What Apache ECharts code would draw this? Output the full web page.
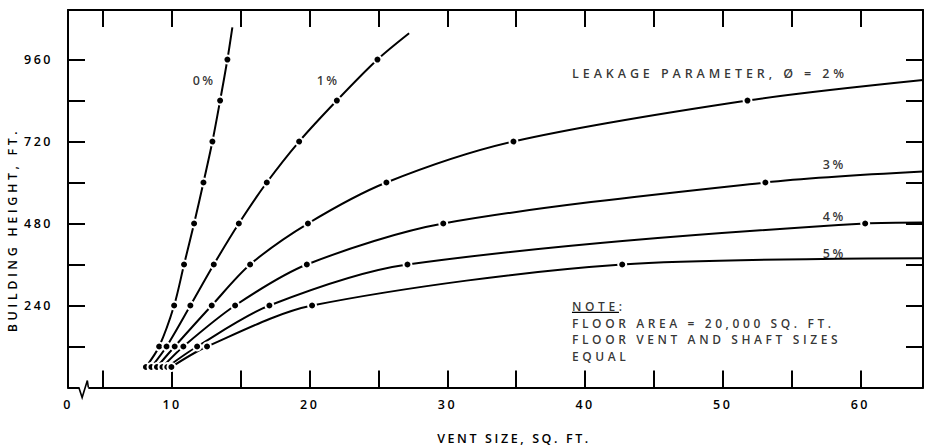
<!DOCTYPE html>
<html><head><meta charset="utf-8">
<script src="https://cdn.jsdelivr.net/npm/echarts@6/dist/echarts.min.js"></script>
<style>
html,body{margin:0;padding:0;background:#fff}
#chart{width:928px;height:448px;letter-spacing:3.6px}
</style>
</head><body><div id="chart"></div>
<script>
// ---------- data ----------
const curveNames = ['0%', '1%', '2%', '3%', '4%', '5%'];
// measured points (dots) per leakage parameter: [vent size sq.ft, building height ft]
const leak0 = [[8.1, 60], [9.06, 120], [10.15, 240], [10.87, 360], [11.6, 480], [12.28, 600], [12.93, 720], [13.49, 840], [14.02, 960]];
const leak1 = [[8.5, 60], [9.6, 120], [11.33, 240], [13.03, 360], [14.85, 480], [16.88, 600], [19.23, 720], [21.97, 840], [24.92, 960]];
const leak2 = [[8.9, 60], [10.19, 120], [12.88, 240], [15.67, 360], [19.87, 480], [25.57, 600], [34.8, 720], [51.8, 840]];
const leak3 = [[9.3, 60], [10.82, 120], [14.58, 240], [19.79, 360], [29.7, 480], [53.1, 600]];
const leak4 = [[9.65, 60], [11.82, 120], [17.07, 240], [27.1, 360], [60.35, 480]];
const leak5 = [[9.95, 60], [12.54, 120], [20.17, 240], [42.7, 360]];
// where each drawn curve ends (no dot)
const curveEnds = [[14.38, 1054], [27.22, 1037], [64.55, 900], [64.55, 632], [64.55, 483], [64.55, 378]];

const X_MIN = 2.44, X_MAX = 64.55, Y_MIN = 0, Y_MAX = 1105;
const xTickValues = [5, 10, 15, 20, 25, 30, 35, 40, 45, 50, 55, 60];
const xLabelValues = [X_MIN, 10, 20, 30, 40, 50, 60];
const yTickValues = [120, 240, 360, 480, 600, 720, 840, 960];
const yLabelValues = [240, 480, 720, 960];

const curveLabels = ['0%', '1%', 'LEAKAGE PARAMETER, Ø = 2%', '3%', '4%', '5%'];
const curveLabelAt = [[12.33, 900], [21.34, 900], [59.1, 920], [58.1, 654], [58.1, 500], [58.1, 392]];
const noteText = ['NOTE:', 'FLOOR AREA = 20,000 SQ. FT.', 'FLOOR VENT AND SHAFT SIZES', 'EQUAL'];
const noteAt = [39.05, 261];
const breakAtX = 3.3;

const xTitle = 'VENT SIZE, SQ. FT.';
const yTitle = 'BUILDING HEIGHT, FT.';

// ---------- chart ----------
const FONT = '"Open Sans", "Noto Sans", sans-serif';
const WEIGHT = 600;
const INK = '#000';
const chart = echarts.init(document.getElementById('chart'), null, { renderer: 'svg' });

const curves = [leak0, leak1, leak2, leak3, leak4, leak5];
const axisLine = { show: true, onZero: false, lineStyle: { color: INK, width: 2 } };
function tick(values) {
  return { show: true, inside: true, length: 17, customValues: values, lineStyle: { color: INK, width: 2 } };
}

const lineSeries = curves.map((pts, i) => ({
  name: curveNames[i],
  type: 'line',
  smooth: 0.3,
  symbol: 'circle',
  symbolSize: 8,
  showAllSymbol: true,
  itemStyle: { color: INK, borderColor: '#fff', borderWidth: 2 },
  lineStyle: { color: INK, width: 2 },
  z: 3,
  data: pts.map(p => ({ value: p })).concat([{ value: curveEnds[i], symbol: 'none' }])
}));

const labelSeries = {
  type: 'scatter',
  symbolSize: 0,
  silent: true,
  z: 5,
  label: { show: true, position: 'inside', formatter: '{b}', color: INK, fontSize: 12.5, fontWeight: WEIGHT, fontFamily: FONT },
  data: curveLabels.map((t, i) => ({
    name: t,
    value: curveLabelAt[i],
    label: i === 2 ? { align: 'right' } : {}
  })).concat([{
    name: noteText.join('\n'),
    value: noteAt,
    label: { align: 'left', verticalAlign: 'top', lineHeight: 16.5, fontSize: 12 }
  }])
};

chart.setOption({
  animation: false,
  backgroundColor: '#fff',
  grid: { left: 68, right: 5, top: 10, bottom: 60.5, containLabel: false },
  xAxis: [
    {
      type: 'value', min: X_MIN, max: X_MAX, position: 'bottom',
      axisLine, axisTick: tick(xTickValues), splitLine: { show: false },
      axisLabel: {
        customValues: xLabelValues, margin: 10, color: INK, fontSize: 12.5, fontWeight: WEIGHT, fontFamily: FONT,
        formatter: v => (v < 5 ? '0' : String(v))
      }
    },
    {
      type: 'value', min: X_MIN, max: X_MAX, position: 'top',
      axisLine, axisTick: tick(xTickValues), splitLine: { show: false }, axisLabel: { show: false }
    }
  ],
  yAxis: [
    {
      type: 'value', min: Y_MIN, max: Y_MAX, position: 'left',
      axisLine, axisTick: tick(yTickValues), splitLine: { show: false },
      axisLabel: { customValues: yLabelValues, margin: 15, color: INK, fontSize: 12.5, fontWeight: WEIGHT, fontFamily: FONT }
    },
    {
      type: 'value', min: Y_MIN, max: Y_MAX, position: 'right',
      axisLine, axisTick: tick(yTickValues), splitLine: { show: false }, axisLabel: { show: false }
    }
  ],
  series: lineSeries.concat([labelSeries])
});

// decorations placed through the axes
const p0 = chart.convertToPixel({ xAxisIndex: 0, yAxisIndex: 0 }, [breakAtX, 0]);
const pn = chart.convertToPixel({ xAxisIndex: 0, yAxisIndex: 0 }, noteAt);
const bx = p0[0], by = p0[1];
const titleFont = WEIGHT + ' 12.5px ' + FONT;
chart.setOption({
  graphic: [
    { type: 'rect', shape: { x: bx - 0.5, y: by - 3, width: 9, height: 6 }, style: { fill: '#fff' }, z: 10 },
    { type: 'polyline', shape: { points: [[bx - 1, by], [bx + 2.3, by + 10], [bx + 7.5, by - 7], [bx + 8.5, by]] },
      style: { stroke: INK, lineWidth: 1.6, fill: null }, z: 11 },
    { type: 'line', shape: { x1: pn[0], y1: pn[1] + 14, x2: pn[0] + 47, y2: pn[1] + 14 },
      style: { stroke: INK, lineWidth: 1.4 }, z: 11 },
    { type: 'text', x: 514, y: 438, style: { text: xTitle, fill: INK, font: titleFont, align: 'center', verticalAlign: 'middle' }, z: 11 },
    { type: 'text', x: 12, y: 230, rotation: Math.PI / 2, style: { text: yTitle, fill: INK, font: titleFont, align: 'center', verticalAlign: 'middle' }, z: 11 }
  ]
});

function spacing() {
  document.querySelectorAll('#chart svg text').forEach(t => {
    const s = t.textContent.trim();
    if (/^\d+%?$/.test(s)) t.style.letterSpacing = '2.5px';
    else if (s === xTitle) t.style.letterSpacing = '2.6px';
    else if (s === yTitle) t.style.letterSpacing = '3.6px';
    else if (s.indexOf('LEAKAGE') === 0) t.style.letterSpacing = '3.9px';
  });
}
spacing();
chart.on('finished', spacing);
</script>
</body></html>
